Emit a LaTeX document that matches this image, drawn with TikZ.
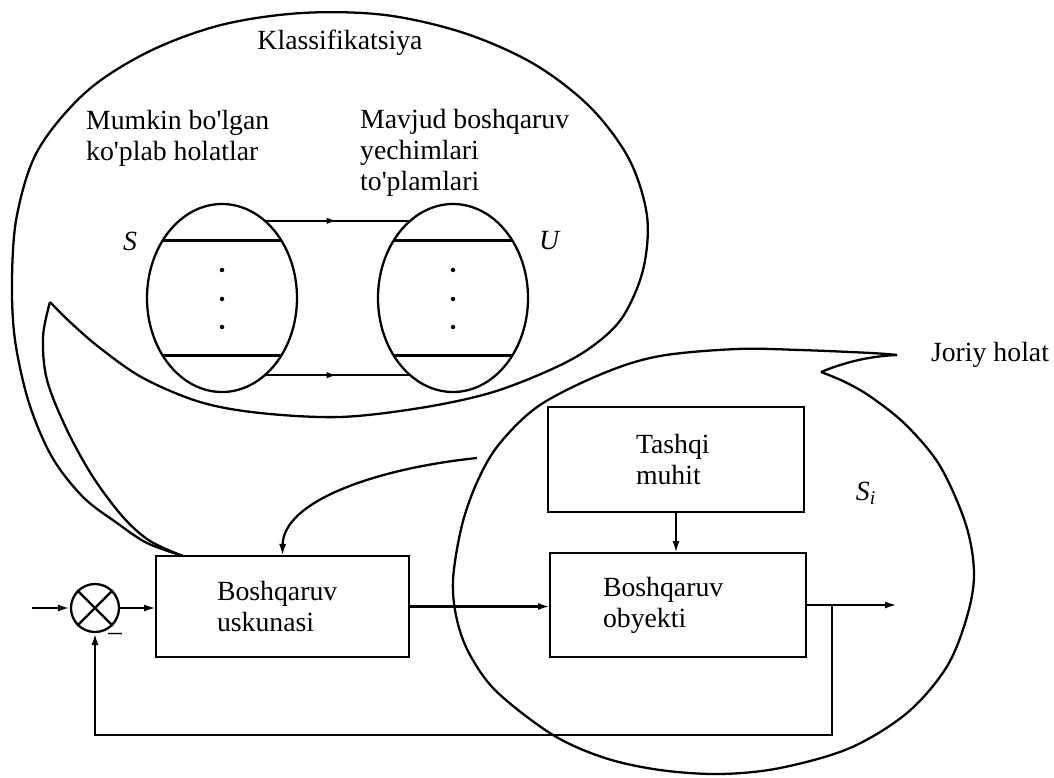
\documentclass[tikz,border=0pt]{standalone}
\usepackage{fontspec}
\setmainfont{Liberation Serif}
\usetikzlibrary{arrows.meta,shapes.geometric,decorations.markings}

\tikzset{
	arr/.style={-{Latex[length=2.4mm,width=1.4mm]}},
	block/.style={draw, minimum width=51.2mm, align=left, outer sep=0pt},
	set/.style={draw, ellipse, minimum width=30mm, minimum height=37.6mm, inner sep=0pt, outer sep=0pt},
	midarrow/.style={postaction={decorate}, decoration={markings, mark=at position 0.5 with {\arrow{Latex[length=2.2mm,width=1.3mm]}}}}
}

\begin{document}
\begin{tikzpicture}[x=0.2mm, y=-0.2mm, line width=1.3pt,
		every node/.style={font=\fontsize{15.8}{17.6}\selectfont}]
		\useasboundingbox (0, 0) rectangle (1054, 778);
		
		% classification bubble
		\draw plot[smooth, tension=0.55] coordinates {(183,556) (147,543) (117,523) (83,497) (52,457) (29,403) (15,340) (12,280) (17,215) (38,150) (86,92) (148,52) (221,25) (302,13) (385,15) (464,33) (534,64) (590,107) (629,159) (647,216) (643,270) (622,318) (590,348) (550,370) (490,393) (420,408) (340,417) (260,413) (200,402) (143,378) (100,348) (70,322) (50,302)};
		\draw plot[smooth, tension=0.55] coordinates {(50,302) (43,337) (47,380) (67,430) (93,477) (123,517) (150,541) (183,556)};
		
		% current state bubble
		\draw plot[smooth, tension=0.55] coordinates {(897,355) (871,353) (800,350) (737,349) (660,356) (604,373) (540,405) (500,443) (478,480) (462,525) (453,580) (457,620) (470,655) (497,692) (553,735) (605,758) (660,770) (720,774) (780,768) (850,748) (907,713) (946,668) (966,620) (974,575) (966,525) (940,466) (906,425) (871,397) (845,382) (821,372)};
		\draw (821,372) .. controls (850,360) and (875,356) .. (897,355);
		
		\node (klass) at (340, 43) {Klassifikatsiya};
		\node[align=left, anchor=west, inner sep=0pt] (states) at (85, 138) {Mumkin bo\textquotesingle lgan\\ko\textquotesingle plab holatlar};
		\node[align=left, anchor=west, inner sep=0pt] (decisions) at (359, 153) {Mavjud boshqaruv\\yechimlari\\to\textquotesingle plamlari};
		
		\node[set] (setS) at (222, 298) {};
		\node[set] (setU) at (453, 298) {};
		\draw (setS.136) -- (setS.44);
		\draw (setS.224) -- (setS.316);
		\draw (setU.136) -- (setU.44);
		\draw (setU.224) -- (setU.316);
		\foreach \y in {270, 299, 327} {
			\fill (222, \y) circle (0.45mm);
			\fill (453, \y) circle (0.45mm);
		}
		\draw[midarrow] (setS.61) -- (setU.119);
		\draw[midarrow] (setS.299) -- (setU.241);
		
		\node (lblS) at (130, 241) {\textit{S}};
		\node (lblU) at (550, 241) {\textit{U}};
		\node (lblSi) at (866, 493) {\textit{S}\textsubscript{\textit{i}}};
		\node (joriy) at (990, 355) {Joriy holat};
		
		\node[block, minimum height=21mm, text width=16mm, inner xsep=17.6mm] (env) at (676, 459.5) {Tashqi\\muhit};
		\node[block, minimum height=20.8mm, text width=30mm, inner xsep=10.6mm] (object) at (678, 605) {Boshqaruv\\obyekti};
		\node[block, minimum width=50.6mm, minimum height=20.2mm, text width=26.2mm, inner xsep=12.2mm] (device) at (282.5, 606.5) {Boshqaruv\\uskunasi};
		
		\node[circle, draw, minimum size=9.6mm, inner sep=0pt] (sum) at (95, 608) {};
		\draw (sum.45) -- (sum.225) (sum.135) -- (sum.315);
		\node (minus) at (115, 637) {--};
		
		\coordinate (inp) at (32, 608);
		\coordinate (outp) at (897, 605);
		\coordinate (branch) at (832, 605);
		\coordinate (cls) at (477, 458);
		
		\draw[arr] (inp) -- (sum.west);
		\draw[arr] (sum.east) -- (sum.east -| device.west);
		\draw[arr] (device.east) -- (device.east -| object.west);
		\draw[arr] (env.south) -- (env.south |- object.north);
		\draw[arr] (object.east) -- (outp);
		\draw[arr] (branch) -- ++(0, 130) -| (sum.south);
		\draw[arr] (cls) .. controls (380, 468) and (283, 500) .. (device.north);
	\end{tikzpicture}
\end{document}
